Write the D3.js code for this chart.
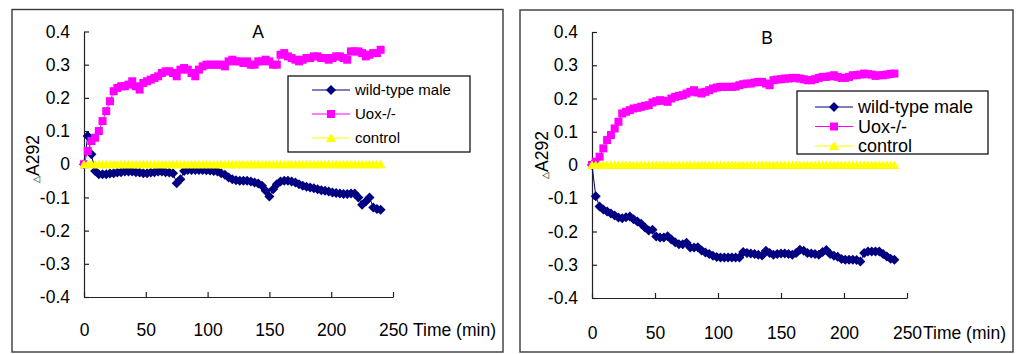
<!DOCTYPE html>
<html>
<head>
<meta charset="utf-8">
<script src="https://cdn.jsdelivr.net/npm/d3@7"></script>
<style>
  body { margin: 0; background: #fff; }
  svg { display: block; font-family: "Liberation Sans", Arial, sans-serif; }
</style>
</head>
<body>
<svg id="chart" width="1020" height="354"></svg>
<script>
// sampling times (min)
var times = [0, 3, 6, 9, 12, 15, 18, 21, 24, 27,
  30, 33, 36, 39, 42, 45, 48, 51, 54, 57,
  60, 63, 66, 69, 72, 75, 78, 81, 84, 87,
  90, 93, 96, 99, 102, 105, 108, 111, 114, 117,
  120, 123, 126, 129, 132, 135, 138, 141, 144, 147,
  150, 153, 156, 159, 162, 165, 168, 171, 174, 177,
  180, 183, 186, 189, 192, 195, 198, 201, 204, 207,
  210, 213, 216, 219, 222, 225, 228, 231, 234, 237,
  240];

var seriesNames = ["wild-type male", "Uox-/-", "control"];

// panel A
var wildA = [0, 0.085, 0.03, -0.02, -0.03, -0.03, -0.03, -0.028, -0.027, -0.025,
  -0.024, -0.022, -0.022, -0.022, -0.024, -0.025, -0.027, -0.027, -0.025, -0.024,
  -0.022, -0.022, -0.024, -0.025, -0.027, -0.057, -0.045, -0.02, -0.017, -0.017,
  -0.017, -0.017, -0.017, -0.018, -0.019, -0.02, -0.022, -0.027, -0.032, -0.04,
  -0.045, -0.048, -0.05, -0.05, -0.05, -0.052, -0.055, -0.058, -0.065, -0.08,
  -0.097, -0.075, -0.06, -0.052, -0.05, -0.05, -0.052, -0.055, -0.06, -0.065,
  -0.068, -0.07, -0.072, -0.075, -0.078, -0.08, -0.082, -0.085, -0.087, -0.088,
  -0.09, -0.09, -0.088, -0.088, -0.1, -0.122, -0.112, -0.1, -0.13, -0.135,
  -0.137];
var uoxA = [0, 0.04, 0.07, 0.08, 0.10, 0.13, 0.16, 0.19, 0.22, 0.23,
  0.235, 0.235, 0.24, 0.25, 0.235, 0.225, 0.245, 0.25, 0.255, 0.26,
  0.265, 0.275, 0.28, 0.28, 0.275, 0.265, 0.285, 0.29, 0.285, 0.275,
  0.265, 0.285, 0.295, 0.30, 0.30, 0.30, 0.30, 0.30, 0.295, 0.31,
  0.315, 0.31, 0.31, 0.305, 0.31, 0.30, 0.30, 0.31, 0.31, 0.315,
  0.31, 0.30, 0.30, 0.33, 0.335, 0.325, 0.32, 0.315, 0.31, 0.315,
  0.32, 0.32, 0.325, 0.325, 0.32, 0.32, 0.315, 0.32, 0.325, 0.325,
  0.32, 0.315, 0.34, 0.34, 0.34, 0.335, 0.325, 0.33, 0.335, 0.335,
  0.345];
var controlA = [0, 0, 0, 0, 0, 0, 0, 0, 0, 0,
  0, 0, 0, 0, 0, 0, 0, 0, 0, 0,
  0, 0, 0, 0, 0, 0, 0, 0, 0, 0,
  0, 0, 0, 0, 0, 0, 0, 0, 0, 0,
  0, 0, 0, 0, 0, 0, 0, 0, 0, 0,
  0, 0, 0, 0, 0, 0, 0, 0, 0, 0,
  0, 0, 0, 0, 0, 0, 0, 0, 0, 0,
  0, 0, 0, 0, 0, 0, 0, 0, 0, 0,
  0];

// panel B
var wildB = [0, -0.094, -0.125, -0.134, -0.14, -0.146, -0.152, -0.158, -0.16, -0.157,
  -0.155, -0.163, -0.17, -0.177, -0.188, -0.197, -0.195, -0.215, -0.218, -0.218,
  -0.214, -0.224, -0.232, -0.238, -0.238, -0.234, -0.248, -0.248, -0.247, -0.257,
  -0.263, -0.268, -0.273, -0.277, -0.278, -0.278, -0.278, -0.278, -0.278, -0.278,
  -0.262, -0.265, -0.266, -0.268, -0.27, -0.272, -0.258, -0.265, -0.27, -0.268,
  -0.266, -0.266, -0.268, -0.27, -0.265, -0.255, -0.258, -0.265, -0.266, -0.268,
  -0.27, -0.262, -0.256, -0.268, -0.273, -0.276, -0.283, -0.285, -0.285, -0.285,
  -0.286, -0.29, -0.265, -0.26, -0.26, -0.26, -0.26, -0.268, -0.275, -0.282,
  -0.285];
var uoxB = [0, 0.01, 0.025, 0.05, 0.075, 0.09, 0.11, 0.13, 0.155, 0.16,
  0.165, 0.17, 0.172, 0.175, 0.178, 0.18, 0.188, 0.192, 0.195, 0.193,
  0.19, 0.2, 0.205, 0.208, 0.21, 0.215, 0.22, 0.225, 0.218, 0.215,
  0.22, 0.225, 0.23, 0.233, 0.235, 0.235, 0.235, 0.235, 0.236, 0.24,
  0.243, 0.245, 0.245, 0.248, 0.25, 0.25, 0.245, 0.24, 0.255, 0.257,
  0.258, 0.26, 0.26, 0.262, 0.262, 0.26, 0.258, 0.255, 0.255, 0.258,
  0.262, 0.265, 0.265, 0.267, 0.27, 0.265, 0.262, 0.262, 0.265, 0.27,
  0.27, 0.272, 0.275, 0.273, 0.272, 0.268, 0.27, 0.27, 0.272, 0.274,
  0.275];
var controlB = [0, 0, 0, 0, 0, 0, 0, 0, 0, 0,
  0, 0, 0, 0, 0, 0, 0, 0, 0, 0,
  0, 0, 0, 0, 0, 0, 0, 0, 0, 0,
  0, 0, 0, 0, 0, 0, 0, 0, 0, 0,
  0, 0, 0, 0, 0, 0, 0, 0, 0, 0,
  0, 0, 0, 0, 0, 0, 0, 0, 0, 0,
  0, 0, 0, 0, 0, 0, 0, 0, 0, 0,
  0, 0, 0, 0, 0, 0, 0, 0, 0, 0,
  0];

var xTicks = [0, 50, 100, 150, 200, 250];
var xTickLabels = ["0", "50", "100", "150", "200", "250"];
var yTicks = [-0.4, -0.3, -0.2, -0.1, 0, 0.1, 0.2, 0.3, 0.4];
var yTickLabels = ["-0.4", "-0.3", "-0.2", "-0.1", "0", "0.1", "0.2", "0.3", "0.4"];

var colors = ["#000080", "#ff00ff", "#ffff00"];
var shapes = ["diamond", "square", "triangle"];

var svg = d3.select("#chart");

// layout per panel (pixels only, no data)
var panels = [
  { title: "A", data: [wildA, uoxA, controlA],
    frame: [12, 9.5, 491, 342.5], xr: [84, 393], yr: [297, 31.5],
    titleX: 258, titleY: 38, ylabX: 33, ylabY: 159, xPad: 27, timeX: 413,
    leg: { x: 288, y: 76, w: 182, h: 76, row0: 90, rowH: 24, fs: 15, l0: 312, l1: 350, tx: 355 } },
  { title: "B", data: [wildB, uoxB, controlB],
    frame: [520, 10, 493, 342], xr: [592, 907], yr: [298, 32],
    titleX: 767, titleY: 44, ylabX: 542, ylabY: 155, xPad: 29, timeX: 923,
    leg: { x: 797, y: 91, w: 191, h: 63, row0: 107, rowH: 19.5, fs: 18, l0: 815, l1: 853, tx: 858 } }
];

function marker(sel, shape, color) {
  if (shape == "diamond") {
    sel.append("path").attr("d", "M0,-5L5,0L0,5L-5,0Z").attr("fill", color);
  } else if (shape == "square") {
    sel.append("rect").attr("x", -4).attr("y", -4).attr("width", 8).attr("height", 8).attr("fill", color);
  } else {
    sel.append("path").attr("d", "M0,-4.5L5,4L-5,4Z").attr("fill", color);
  }
}

panels.forEach(function(p) {
  var g = svg.append("g");

  g.append("rect")
    .attr("x", p.frame[0]).attr("y", p.frame[1])
    .attr("width", p.frame[2]).attr("height", p.frame[3])
    .attr("fill", "none").attr("stroke", "#3a3a3a").attr("stroke-width", 1.4);

  var x = d3.scaleLinear().domain([0, 250]).range(p.xr);
  var y = d3.scaleLinear().domain([-0.4, 0.4]).range(p.yr);

  // axes, ticks pointing inside
  var ax = g.append("g")
    .attr("transform", "translate(0," + p.yr[0] + ")")
    .call(d3.axisBottom(x).tickValues(xTicks).tickSize(-5).tickSizeOuter(0).tickPadding(p.xPad)
      .tickFormat(function(d, i) { return xTickLabels[i]; }));
  var ay = g.append("g")
    .attr("transform", "translate(" + p.xr[0] + ",0)")
    .call(d3.axisLeft(y).tickValues(yTicks).tickSize(-5).tickSizeOuter(0).tickPadding(14)
      .tickFormat(function(d, i) { return yTickLabels[i]; }));
  [ax, ay].forEach(function(a) {
    a.attr("font-family", null).attr("font-size", 17.5);
    a.selectAll("path, line").attr("stroke", "#222").attr("stroke-width", 1.2);
    a.selectAll("text").attr("fill", "#000");
  });

  g.append("text")
    .attr("x", p.timeX).attr("y", p.yr[0] + p.xPad + 12)
    .attr("font-size", 17.5)
    .text("Time (min)");

  g.append("text")
    .attr("x", p.titleX).attr("y", p.titleY)
    .attr("text-anchor", "middle").attr("font-size", 17.5)
    .text(p.title);

  var yl = g.append("text")
    .attr("transform", "translate(" + p.ylabX + "," + p.ylabY + ") rotate(-90)")
    .attr("text-anchor", "middle").attr("dy", "0.35em")
    .attr("font-size", 17.5);
  yl.append("tspan").attr("font-size", 9).text("\u25B3");
  yl.append("tspan").text("A292");

  // series: wild-type, Uox-/-, control (control drawn last, on top)
  var line = d3.line()
    .x(function(d) { return x(d[0]); })
    .y(function(d) { return y(d[1]); });

  p.data.forEach(function(vals, si) {
    var pts = times.map(function(t, i) { return [t, vals[i]]; });
    g.append("path")
      .attr("d", line(pts))
      .attr("fill", "none")
      .attr("stroke", colors[si])
      .attr("stroke-width", 1);
    g.selectAll(null)
      .data(pts)
      .enter()
      .append("g")
      .attr("transform", function(d) { return "translate(" + x(d[0]) + "," + y(d[1]) + ")"; })
      .each(function() { marker(d3.select(this), shapes[si], colors[si]); });
  });

  // legend
  var L = p.leg;
  g.append("rect")
    .attr("x", L.x).attr("y", L.y).attr("width", L.w).attr("height", L.h)
    .attr("fill", "#fff").attr("stroke", "#000").attr("stroke-width", 1.2);
  seriesNames.forEach(function(name, i) {
    var cy = L.row0 + i * L.rowH;
    g.append("line")
      .attr("x1", L.l0).attr("x2", L.l1).attr("y1", cy).attr("y2", cy)
      .attr("stroke", colors[i]).attr("stroke-width", 1.2);
    var m = g.append("g").attr("transform", "translate(" + (L.l0 + L.l1) / 2 + "," + cy + ")");
    marker(m, shapes[i], colors[i]);
    g.append("text")
      .attr("x", L.tx).attr("y", cy).attr("dy", "0.35em")
      .attr("font-size", L.fs)
      .text(name);
  });
});
</script>
</body>
</html>
